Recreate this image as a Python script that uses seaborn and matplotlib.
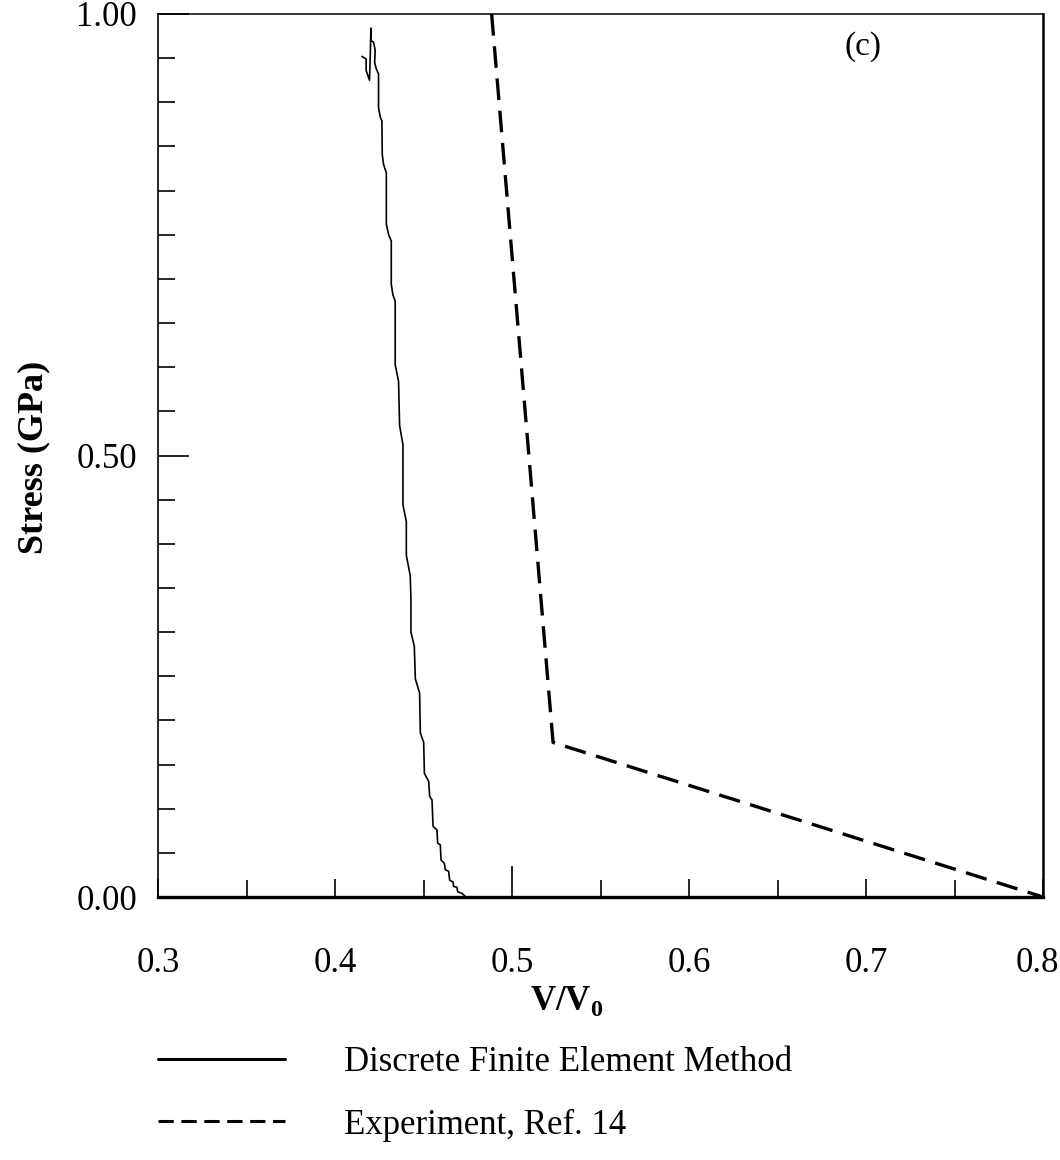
import pandas as pd
import matplotlib.pyplot as plt
import matplotlib.transforms as mtransforms
from matplotlib.lines import Line2D
from matplotlib.ticker import MultipleLocator, FixedLocator
import seaborn as sns

# DFEM curve (bottom -> top, then the small hook at the top)
sim_v = [0.4740, 0.4718, 0.4693, 0.4689, 0.4670, 0.4667, 0.4648, 0.4642, 0.4623, 0.4618,
         0.4599, 0.4595, 0.4580, 0.4576, 0.4554, 0.4548, 0.4535, 0.4529, 0.4505, 0.4501,
         0.4482, 0.4478, 0.4454, 0.4448, 0.4429, 0.4429, 0.4425, 0.4403, 0.4403, 0.4384,
         0.4384, 0.4365, 0.4359, 0.4340, 0.4340, 0.4327, 0.4318, 0.4318, 0.4303, 0.4290,
         0.4290, 0.4274, 0.4267, 0.4265, 0.4256, 0.4246, 0.4246, 0.4233, 0.4224, 0.4227,
         0.4218, 0.4203, 0.4203, 0.4199, 0.4195, 0.4176, 0.4176, 0.4152]
sim_stress = [0.000, 0.004, 0.006, 0.011, 0.012, 0.017, 0.019, 0.029, 0.031, 0.038,
              0.042, 0.059, 0.061, 0.076, 0.080, 0.110, 0.114, 0.131, 0.140, 0.175,
              0.186, 0.231, 0.247, 0.284, 0.300, 0.338, 0.364, 0.387, 0.425, 0.444,
              0.512, 0.534, 0.584, 0.603, 0.675, 0.682, 0.694, 0.743, 0.750, 0.762,
              0.820, 0.830, 0.841, 0.879, 0.883, 0.894, 0.932, 0.938, 0.945, 0.959,
              0.968, 0.970, 0.984, 0.951, 0.925, 0.936, 0.949, 0.952]

# experiment, Ref. 14
exp_v = [0.4885, 0.5232, 0.8000]
exp_stress = [1.000, 0.175, 0.000]

x_ticks = [0.3, 0.4, 0.5, 0.6, 0.7, 0.8]
y_ticks = [0.0, 0.5, 1.0]

sim = pd.DataFrame({'v': sim_v, 'stress': sim_stress})
exp = pd.DataFrame({'v': exp_v, 'stress': exp_stress})

sns.set_theme(style="white")
plt.rcParams['font.family'] = ['Liberation Serif', 'DejaVu Serif']
plt.rcParams['mathtext.fontset'] = 'custom'
plt.rcParams['mathtext.rm'] = 'Liberation Serif'
plt.rcParams['mathtext.bf'] = 'Liberation Serif:bold'

fs = 25

fig = plt.figure(figsize=(10.6, 11.6), dpi=100)
ax = fig.add_axes([158/1060, 1 - 897/1160, 885/1060, 883/1160])

sns.lineplot(data=sim, x='v', y='stress', sort=False, estimator=None,
             color='black', linewidth=1.2, ax=ax)
sns.lineplot(data=exp, x='v', y='stress', sort=False, estimator=None,
             color='black', linewidth=2.4, ax=ax)
ax.lines[1].set_dashes((6.5, 3.2))

ax.set_xlim(0.3, 0.8)
ax.set_ylim(0.0, 1.0)

# ticks: labels every 0.1 / 0.5, small inward ticks every 0.05
ax.xaxis.set_major_locator(FixedLocator(x_ticks))
ax.xaxis.set_minor_locator(MultipleLocator(0.05))
ax.yaxis.set_major_locator(FixedLocator(y_ticks))
ax.yaxis.set_minor_locator(MultipleLocator(0.05))
ax.set_xticklabels([f'{t:.1f}' for t in x_ticks])
ax.set_yticklabels([f'{t:.2f}' for t in y_ticks])
ax.tick_params(which='both', direction='in', color='black', width=1.2,
               bottom=True, left=True, top=False, right=False,
               labelsize=fs, labelcolor='black')
ax.tick_params(axis='x', which='major', length=13, pad=36)
ax.tick_params(axis='y', which='major', length=22, pad=15)
ax.tick_params(which='minor', length=12)
# the 0.5 tick on the x axis is the long one
ax.xaxis.get_major_ticks()[2].tick1line.set_markersize(22)
# nudge "0.8" a little so it stays inside the figure
last = ax.get_xticklabels()[-1]
last.set_transform(last.get_transform() + mtransforms.ScaledTranslation(-4/72, 0, fig.dpi_scale_trans))

for side, lw in [('left', 1.2), ('bottom', 2.4), ('top', 1.1), ('right', 1.8)]:
    ax.spines[side].set_visible(True)
    ax.spines[side].set_color('black')
    ax.spines[side].set_linewidth(lw)

ax.set_xlabel(r'V/V$_\mathbf{0}$', fontsize=fs, fontweight='bold', color='black')
ax.set_ylabel('Stress (GPa)', fontsize=26, fontweight='bold', color='black')
ax.xaxis.set_label_coords(0.462, -0.098)
ax.yaxis.set_label_coords(-0.122, 0.498)

ax.text(0.797, 0.963, '(c)', transform=ax.transAxes, fontsize=24,
        ha='center', va='center', color='black')

handles = [Line2D([], [], color='black', linewidth=2.2),
           Line2D([], [], color='black', linewidth=2.2, dashes=(5, 2.5))]
labels = ['Discrete Finite Element Method', 'Experiment, Ref. 14']
fig.legend(handles, labels, loc='upper left', bbox_to_anchor=(158/1060, 1 - 1046/1160),
           frameon=False, fontsize=fs, labelcolor='black', handlelength=3.65,
           handletextpad=1.7, labelspacing=0.85, borderpad=0, borderaxespad=0)

fig.savefig('out.png', dpi=100, facecolor='white')
